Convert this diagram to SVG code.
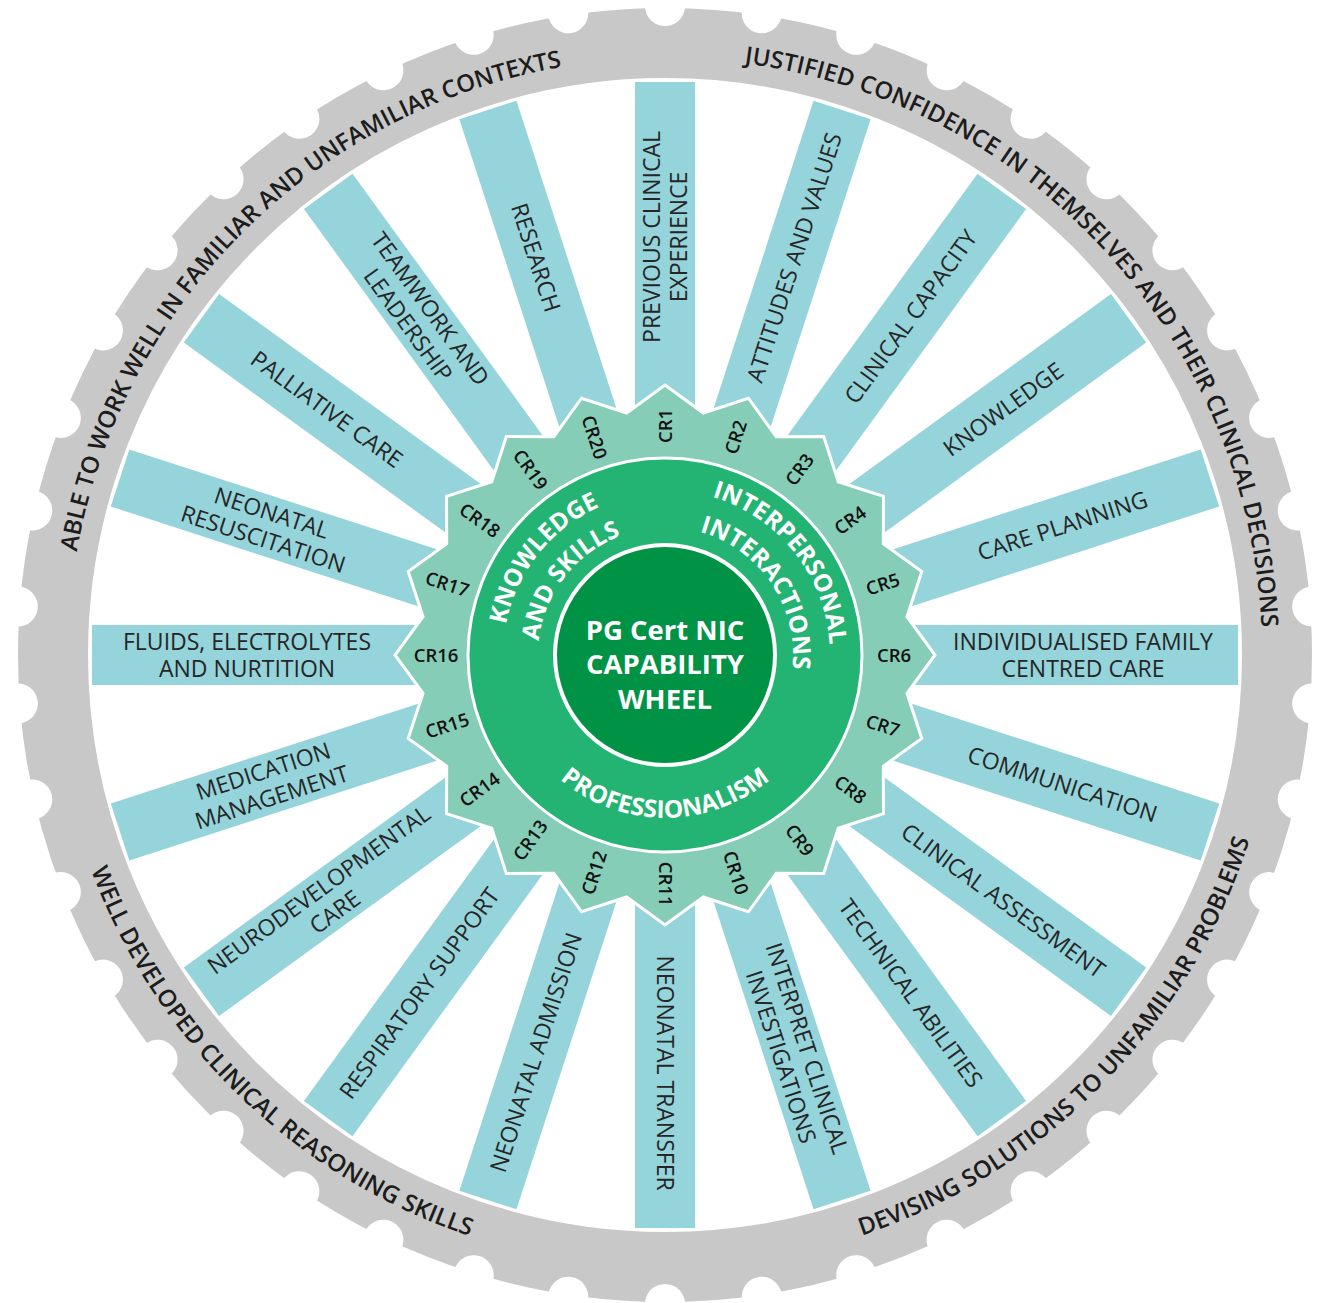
<svg xmlns="http://www.w3.org/2000/svg" xmlns:xlink="http://www.w3.org/1999/xlink" width="1324" height="1303" viewBox="0 0 1324 1303">
<style>
.ringtxt{font-family:"Open Sans","Liberation Sans",sans-serif;font-size:24px;font-weight:600;fill:#1c1c1c;}
.bar{fill:#94d4da;}
.lbl{font-family:"Open Sans","Liberation Sans",sans-serif;font-size:23px;font-weight:400;fill:#262626;text-anchor:middle;}
.cr{font-family:"Open Sans","Liberation Sans",sans-serif;font-size:18.5px;font-weight:600;fill:#111;text-anchor:middle;}
.disctxt{font-family:"Open Sans","Liberation Sans",sans-serif;font-size:24.5px;font-weight:700;fill:#fff;}
.ctr{font-family:"Open Sans","Liberation Sans",sans-serif;font-size:27.5px;font-weight:700;fill:#fff;text-anchor:middle;}
</style>
<defs>
<circle id="nc" cx="665" cy="6" r="20"/>
<mask id="notches" maskUnits="userSpaceOnUse" x="0" y="0" width="1324" height="1303">
<rect x="0" y="0" width="1324" height="1303" fill="#fff"/>
<g fill="#000">
<use xlink:href="#nc" transform="rotate(0 665 655)"/>
<use xlink:href="#nc" transform="rotate(8.571 665 655)"/>
<use xlink:href="#nc" transform="rotate(17.143 665 655)"/>
<use xlink:href="#nc" transform="rotate(25.714 665 655)"/>
<use xlink:href="#nc" transform="rotate(34.286 665 655)"/>
<use xlink:href="#nc" transform="rotate(42.857 665 655)"/>
<use xlink:href="#nc" transform="rotate(51.429 665 655)"/>
<use xlink:href="#nc" transform="rotate(60 665 655)"/>
<use xlink:href="#nc" transform="rotate(68.571 665 655)"/>
<use xlink:href="#nc" transform="rotate(77.143 665 655)"/>
<use xlink:href="#nc" transform="rotate(85.714 665 655)"/>
<use xlink:href="#nc" transform="rotate(94.286 665 655)"/>
<use xlink:href="#nc" transform="rotate(102.857 665 655)"/>
<use xlink:href="#nc" transform="rotate(111.429 665 655)"/>
<use xlink:href="#nc" transform="rotate(120 665 655)"/>
<use xlink:href="#nc" transform="rotate(128.571 665 655)"/>
<use xlink:href="#nc" transform="rotate(137.143 665 655)"/>
<use xlink:href="#nc" transform="rotate(145.714 665 655)"/>
<use xlink:href="#nc" transform="rotate(154.286 665 655)"/>
<use xlink:href="#nc" transform="rotate(162.857 665 655)"/>
<use xlink:href="#nc" transform="rotate(171.429 665 655)"/>
<use xlink:href="#nc" transform="rotate(180 665 655)"/>
<use xlink:href="#nc" transform="rotate(188.571 665 655)"/>
<use xlink:href="#nc" transform="rotate(197.143 665 655)"/>
<use xlink:href="#nc" transform="rotate(205.714 665 655)"/>
<use xlink:href="#nc" transform="rotate(214.286 665 655)"/>
<use xlink:href="#nc" transform="rotate(222.857 665 655)"/>
<use xlink:href="#nc" transform="rotate(231.429 665 655)"/>
<use xlink:href="#nc" transform="rotate(240 665 655)"/>
<use xlink:href="#nc" transform="rotate(248.571 665 655)"/>
<use xlink:href="#nc" transform="rotate(257.143 665 655)"/>
<use xlink:href="#nc" transform="rotate(265.714 665 655)"/>
<use xlink:href="#nc" transform="rotate(274.286 665 655)"/>
<use xlink:href="#nc" transform="rotate(282.857 665 655)"/>
<use xlink:href="#nc" transform="rotate(291.429 665 655)"/>
<use xlink:href="#nc" transform="rotate(300 665 655)"/>
<use xlink:href="#nc" transform="rotate(308.571 665 655)"/>
<use xlink:href="#nc" transform="rotate(317.143 665 655)"/>
<use xlink:href="#nc" transform="rotate(325.714 665 655)"/>
<use xlink:href="#nc" transform="rotate(334.286 665 655)"/>
<use xlink:href="#nc" transform="rotate(342.857 665 655)"/>
<use xlink:href="#nc" transform="rotate(351.429 665 655)"/>
</g>
</mask>
<path id="rp1" d="M 88.3 809.5 A 597 597 0 0 1 819.5 78.3"/>
<path id="rp2" d="M 535.8 72.1 A 597 597 0 0 1 1234.4 834.5"/>
<path id="rp3" d="M 512.5 1248.8 A 613 613 0 0 0 1255.4 490.2"/>
<path id="rp4" d="M 70.2 506.7 A 613 613 0 0 0 833.9 1244.3"/>
<path id="dp1" d="M 543.7 762.3 A 162 162 0 0 1 742.3 512.6"/>
<path id="dp2" d="M 570.6 740.0 A 127 127 0 0 1 724.6 542.9"/>
<path id="dp3" d="M 586.3 510.0 A 165 165 0 0 1 788.6 764.3"/>
<path id="dp4" d="M 612.9 538.1 A 128 128 0 0 1 753.9 747.1"/>
<path id="dp5" d="M 504.5 683.3 A 163 163 0 0 0 825.5 683.3"/>
</defs>

<rect x="0" y="0" width="1324" height="1303" fill="#fff"/>

<g id="outer-ring">
<circle cx="665" cy="655" r="612" fill="none" stroke="#c8c8c8" stroke-width="70" mask="url(#notches)"/>
<text class="ringtxt"><textPath xlink:href="#rp1" startOffset="50%" text-anchor="middle">ABLE TO WORK WELL IN FAMILIAR AND UNFAMILIAR CONTEXTS</textPath></text>
<text class="ringtxt"><textPath xlink:href="#rp2" startOffset="50%" text-anchor="middle">JUSTIFIED CONFIDENCE IN THEMSELVES AND THEIR CLINICAL DECISIONS</textPath></text>
<text class="ringtxt"><textPath xlink:href="#rp3" startOffset="50%" text-anchor="middle">DEVISING SOLUTIONS TO UNFAMILIAR PROBLEMS</textPath></text>
<text class="ringtxt"><textPath xlink:href="#rp4" startOffset="50%" text-anchor="middle">WELL DEVELOPED CLINICAL REASONING SKILLS</textPath></text>
</g>

<g id="spokes" transform="translate(665 655)">
<g id="spoke-cr1"><rect class="bar" x="-30" y="-573" width="60" height="400" transform="rotate(0)"/>
<text class="lbl" transform="rotate(0) translate(0 -418) rotate(-90)"><tspan x="0" y="-5.5">PREVIOUS CLINICAL</tspan><tspan x="0" y="22">EXPERIENCE</tspan></text></g>
<g id="spoke-cr2"><rect class="bar" x="-30" y="-573" width="60" height="400" transform="rotate(18)"/>
<text class="lbl" transform="rotate(18) translate(0 -418) rotate(-90)" y="8.2">ATTITUDES AND VALUES</text></g>
<g id="spoke-cr3"><rect class="bar" x="-30" y="-573" width="60" height="400" transform="rotate(36)"/>
<text class="lbl" transform="rotate(36) translate(0 -418) rotate(-90)" y="8.2">CLINICAL CAPACITY</text></g>
<g id="spoke-cr4"><rect class="bar" x="-30" y="-573" width="60" height="400" transform="rotate(54)"/>
<text class="lbl" transform="rotate(54) translate(0 -418) rotate(-90)" y="8.2">KNOWLEDGE</text></g>
<g id="spoke-cr5"><rect class="bar" x="-30" y="-573" width="60" height="400" transform="rotate(72)"/>
<text class="lbl" transform="rotate(72) translate(0 -418) rotate(-90)" y="8.2">CARE PLANNING</text></g>
<g id="spoke-cr6"><rect class="bar" x="-30" y="-573" width="60" height="400" transform="rotate(90)"/>
<text class="lbl" transform="rotate(90) translate(0 -418) rotate(-90)"><tspan x="0" y="-5.5">INDIVIDUALISED FAMILY</tspan><tspan x="0" y="22">CENTRED CARE</tspan></text></g>
<g id="spoke-cr7"><rect class="bar" x="-30" y="-573" width="60" height="400" transform="rotate(108)"/>
<text class="lbl" transform="rotate(108) translate(0 -418) rotate(-90)" y="8.2">COMMUNICATION</text></g>
<g id="spoke-cr8"><rect class="bar" x="-30" y="-573" width="60" height="400" transform="rotate(126)"/>
<text class="lbl" transform="rotate(126) translate(0 -418) rotate(-90)" y="8.2">CLINICAL ASSESSMENT</text></g>
<g id="spoke-cr9"><rect class="bar" x="-30" y="-573" width="60" height="400" transform="rotate(144)"/>
<text class="lbl" transform="rotate(144) translate(0 -418) rotate(-90)" y="8.2">TECHNICAL ABILITIES</text></g>
<g id="spoke-cr10"><rect class="bar" x="-30" y="-573" width="60" height="400" transform="rotate(162)"/>
<text class="lbl" transform="rotate(162) translate(0 -418) rotate(-90)"><tspan x="0" y="-5.5">INTERPRET CLINICAL</tspan><tspan x="0" y="22">INVESTIGATIONS</tspan></text></g>
<g id="spoke-cr11"><rect class="bar" x="-30" y="-573" width="60" height="400" transform="rotate(180)"/>
<text class="lbl" transform="rotate(180) translate(0 -418) rotate(-90)" y="8.2">NEONATAL TRANSFER</text></g>
<g id="spoke-cr12"><rect class="bar" x="-30" y="-573" width="60" height="400" transform="rotate(198)"/>
<text class="lbl" transform="rotate(198) translate(0 -418) rotate(90)" y="8.2">NEONATAL ADMISSION</text></g>
<g id="spoke-cr13"><rect class="bar" x="-30" y="-573" width="60" height="400" transform="rotate(216)"/>
<text class="lbl" transform="rotate(216) translate(0 -418) rotate(90)" y="8.2">RESPIRATORY SUPPORT</text></g>
<g id="spoke-cr14"><rect class="bar" x="-30" y="-573" width="60" height="400" transform="rotate(234)"/>
<text class="lbl" transform="rotate(234) translate(0 -418) rotate(90)"><tspan x="0" y="-5.5">NEURODEVELOPMENTAL</tspan><tspan x="0" y="22">CARE</tspan></text></g>
<g id="spoke-cr15"><rect class="bar" x="-30" y="-573" width="60" height="400" transform="rotate(252)"/>
<text class="lbl" transform="rotate(252) translate(0 -418) rotate(90)"><tspan x="0" y="-5.5">MEDICATION</tspan><tspan x="0" y="22">MANAGEMENT</tspan></text></g>
<g id="spoke-cr16"><rect class="bar" x="-30" y="-573" width="60" height="400" transform="rotate(270)"/>
<text class="lbl" transform="rotate(270) translate(0 -418) rotate(90)"><tspan x="0" y="-5.5">FLUIDS, ELECTROLYTES</tspan><tspan x="0" y="22">AND NURTITION</tspan></text></g>
<g id="spoke-cr17"><rect class="bar" x="-30" y="-573" width="60" height="400" transform="rotate(288)"/>
<text class="lbl" transform="rotate(288) translate(0 -418) rotate(90)"><tspan x="0" y="-5.5">NEONATAL</tspan><tspan x="0" y="22">RESUSCITATION</tspan></text></g>
<g id="spoke-cr18"><rect class="bar" x="-30" y="-573" width="60" height="400" transform="rotate(306)"/>
<text class="lbl" transform="rotate(306) translate(0 -418) rotate(90)" y="8.2">PALLIATIVE CARE</text></g>
<g id="spoke-cr19"><rect class="bar" x="-30" y="-573" width="60" height="400" transform="rotate(324)"/>
<text class="lbl" transform="rotate(324) translate(0 -418) rotate(90)"><tspan x="0" y="-5.5">TEAMWORK AND</tspan><tspan x="0" y="22">LEADERSHIP</tspan></text></g>
<g id="spoke-cr20"><rect class="bar" x="-30" y="-573" width="60" height="400" transform="rotate(342)"/>
<text class="lbl" transform="rotate(342) translate(0 -418) rotate(90)" y="8.2">RESEARCH</text></g>
</g>

<g id="hub" transform="translate(665 655)">
<polygon id="gear" fill="#86cdb7" stroke="#fff" stroke-width="3" stroke-linejoin="miter" points="0,-270 38.33,-241.98 83.44,-256.79 111.23,-218.30 158.70,-218.44 173.24,-173.24 218.44,-158.70 218.30,-111.23 256.79,-83.44 241.98,-38.33 270,0 241.98,38.33 256.79,83.44 218.30,111.23 218.44,158.70 173.24,173.24 158.70,218.44 111.23,218.30 83.44,256.79 38.33,241.98 0,270 -38.33,241.98 -83.44,256.79 -111.23,218.30 -158.70,218.44 -173.24,173.24 -218.44,158.70 -218.30,111.23 -256.79,83.44 -241.98,38.33 -270,0 -241.98,-38.33 -256.79,-83.44 -218.30,-111.23 -218.44,-158.70 -173.24,-173.24 -158.70,-218.44 -111.23,-218.30 -83.44,-256.79 -38.33,-241.98"/>
<g id="cr-labels">
<text class="cr" transform="rotate(0) translate(0 -229) rotate(-90)" y="6.5">CR1</text>
<text class="cr" transform="rotate(18) translate(0 -229) rotate(-90)" y="6.5">CR2</text>
<text class="cr" transform="rotate(36) translate(0 -229) rotate(-90)" y="6.5">CR3</text>
<text class="cr" transform="rotate(54) translate(0 -229) rotate(-90)" y="6.5">CR4</text>
<text class="cr" transform="rotate(72) translate(0 -229) rotate(-90)" y="6.5">CR5</text>
<text class="cr" transform="rotate(90) translate(0 -229) rotate(-90)" y="6.5">CR6</text>
<text class="cr" transform="rotate(108) translate(0 -229) rotate(-90)" y="6.5">CR7</text>
<text class="cr" transform="rotate(126) translate(0 -229) rotate(-90)" y="6.5">CR8</text>
<text class="cr" transform="rotate(144) translate(0 -229) rotate(-90)" y="6.5">CR9</text>
<text class="cr" transform="rotate(162) translate(0 -229) rotate(-90)" y="6.5">CR10</text>
<text class="cr" transform="rotate(180) translate(0 -229) rotate(-90)" y="6.5">CR11</text>
<text class="cr" transform="rotate(198) translate(0 -229) rotate(90)" y="6.5">CR12</text>
<text class="cr" transform="rotate(216) translate(0 -229) rotate(90)" y="6.5">CR13</text>
<text class="cr" transform="rotate(234) translate(0 -229) rotate(90)" y="6.5">CR14</text>
<text class="cr" transform="rotate(252) translate(0 -229) rotate(90)" y="6.5">CR15</text>
<text class="cr" transform="rotate(270) translate(0 -229) rotate(90)" y="6.5">CR16</text>
<text class="cr" transform="rotate(288) translate(0 -229) rotate(90)" y="6.5">CR17</text>
<text class="cr" transform="rotate(306) translate(0 -229) rotate(90)" y="6.5">CR18</text>
<text class="cr" transform="rotate(324) translate(0 -229) rotate(90)" y="6.5">CR19</text>
<text class="cr" transform="rotate(342) translate(0 -229) rotate(90)" y="6.5">CR20</text>
</g>
<circle id="domain-disc" cx="0" cy="0" r="197" fill="#23b473" stroke="#fff" stroke-width="3"/>
<circle id="core" cx="0" cy="0" r="110" fill="#009245" stroke="#fff" stroke-width="4"/>
</g>

<g id="domains">
<text class="disctxt"><textPath xlink:href="#dp1" startOffset="50%" text-anchor="middle">KNOWLEDGE</textPath></text>
<text class="disctxt"><textPath xlink:href="#dp2" startOffset="50%" text-anchor="middle">AND SKILLS</textPath></text>
<text class="disctxt"><textPath xlink:href="#dp3" startOffset="50%" text-anchor="middle">INTERPERSONAL</textPath></text>
<text class="disctxt"><textPath xlink:href="#dp4" startOffset="50%" text-anchor="middle">INTERACTIONS</textPath></text>
<text class="disctxt"><textPath xlink:href="#dp5" startOffset="50%" text-anchor="middle">PROFESSIONALISM</textPath></text>
</g>

<g id="center-title">
<text class="ctr" x="665" y="640">PG Cert NIC</text>
<text class="ctr" x="665" y="674">CAPABILITY</text>
<text class="ctr" x="665" y="709">WHEEL</text>
</g>
</svg>
